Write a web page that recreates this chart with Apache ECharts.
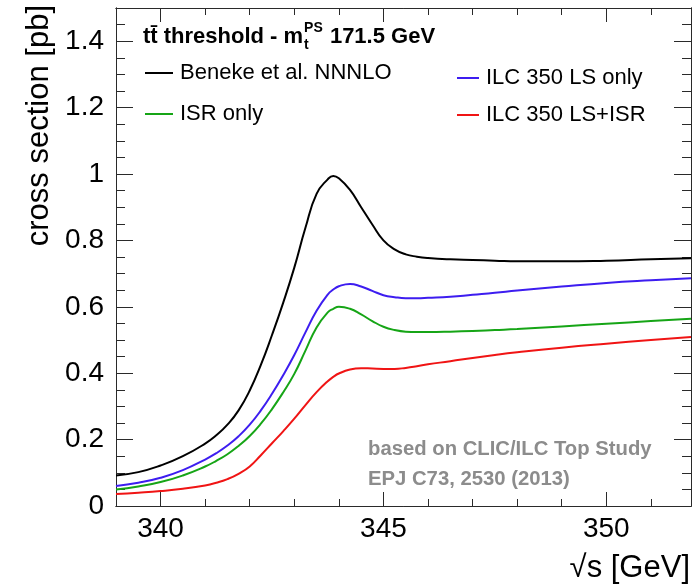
<!DOCTYPE html>
<html>
<head>
<meta charset="utf-8">
<script src="https://cdn.jsdelivr.net/npm/echarts@6/dist/echarts.min.js"></script>
<style>
  html, body { margin: 0; padding: 0; background: #ffffff; }
  #chart { width: 697px; height: 588px; }
</style>
</head>
<body>
<div id="chart"></div>
<script>
// Centre-of-mass energy grid (GeV)
const energy = [339.0, 339.5, 340.0, 340.5, 341.0, 341.25, 341.5, 341.75, 342.0, 342.25, 342.5, 342.75,
                343.0, 343.25, 343.5, 343.75, 343.875, 344.0, 344.25, 344.5, 344.75, 345.0, 345.25, 345.5,
                345.75, 346.0, 346.5, 347.0, 347.5, 348.0, 349.0, 350.0, 351.0, 351.9];

// Cross sections (pb)
const beneke = [0.092, 0.102, 0.122, 0.150, 0.188, 0.213, 0.245, 0.288, 0.348, 0.425, 0.515, 0.612,
                0.718, 0.838, 0.940, 0.984, 0.994, 0.987, 0.952, 0.900, 0.848, 0.800, 0.773, 0.758,
                0.751, 0.747, 0.743, 0.741, 0.739, 0.737, 0.737, 0.739, 0.743, 0.746];
const lsOnly = [0.060, 0.070, 0.085, 0.108, 0.140, 0.159, 0.182, 0.210, 0.245, 0.288, 0.338, 0.394,
                0.455, 0.523, 0.588, 0.637, 0.652, 0.662, 0.669, 0.661, 0.648, 0.635, 0.629, 0.626,
                0.626, 0.627, 0.630, 0.636, 0.642, 0.649, 0.661, 0.672, 0.680, 0.686];
const isrOnly = [0.050, 0.059, 0.072, 0.092, 0.119, 0.136, 0.156, 0.181, 0.211, 0.248, 0.292, 0.342,
                 0.398, 0.468, 0.538, 0.583, 0.594, 0.600, 0.594, 0.577, 0.557, 0.540, 0.530, 0.525,
                 0.524, 0.524, 0.525, 0.527, 0.530, 0.533, 0.541, 0.549, 0.557, 0.564];
const lsIsr = [0.036, 0.040, 0.045, 0.052, 0.062, 0.070, 0.081, 0.097, 0.119, 0.153, 0.189, 0.225,
               0.263, 0.304, 0.343, 0.376, 0.389, 0.399, 0.411, 0.415, 0.414, 0.413, 0.413, 0.416,
               0.421, 0.427, 0.436, 0.446, 0.455, 0.463, 0.477, 0.489, 0.500, 0.509];

// Tick positions
const xMajorTicks = [340, 345, 350];
const xMinorTicks = [341, 342, 343, 344, 346, 347, 348, 349, 351];
const yMajorTicks = [0, 0.2, 0.4, 0.6, 0.8, 1.0, 1.2, 1.4];
const yMinorTicks = [0.05, 0.1, 0.15, 0.25, 0.3, 0.35, 0.45, 0.5, 0.55, 0.65, 0.7, 0.75,
                     0.85, 0.9, 0.95, 1.05, 1.1, 1.15, 1.25, 1.3, 1.35, 1.45];

const seriesNames = ['Beneke et al. NNNLO', 'ISR only', 'ILC 350 LS only', 'ILC 350 LS+ISR'];
const seriesColors = ['#000000', '#16a516', '#3d1df0', '#f01414'];
const seriesValues = [beneke, isrOnly, lsOnly, lsIsr];

const FONT = '"Liberation Sans", Arial, Helvetica, sans-serif';
const X_MIN = 339, X_MAX = 351.9, Y_MIN = 0, Y_MAX = 1.5;
const frameColor = '#2a2a2a';

function xAxisDef(pos, ticks, len, withLabels) {
  return {
    type: 'value', position: pos, min: X_MIN, max: X_MAX,
    axisLine: { show: true, onZero: false, lineStyle: { color: frameColor, width: 1 } },
    axisTick: { show: true, inside: true, length: len, customValues: ticks,
                lineStyle: { color: frameColor, width: 1 } },
    axisLabel: withLabels
      ? { show: true, customValues: ticks, fontSize: 28, color: '#000', fontFamily: FONT, margin: 9 }
      : { show: false },
    splitLine: { show: false }
  };
}
function yAxisDef(pos, ticks, len, withLabels) {
  return {
    type: 'value', position: pos, min: Y_MIN, max: Y_MAX,
    axisLine: { show: true, onZero: false, lineStyle: { color: frameColor, width: 1 } },
    axisTick: { show: true, inside: true, length: len, customValues: ticks,
                lineStyle: { color: frameColor, width: 1 } },
    axisLabel: withLabels
      ? { show: true, customValues: ticks, fontSize: 28, color: '#000', fontFamily: FONT, margin: 12,
          formatter: v => String(Math.round(v * 10) / 10) }
      : { show: false },
    splitLine: { show: false }
  };
}

// Measure text so the sub/superscript pieces of the heading sit right after "m"
const measureCtx = document.createElement('canvas').getContext('2d');
function textWidth(str, font) { measureCtx.font = font; return measureCtx.measureText(str).width; }

const headMain = 'tt\u0304 threshold - m';
const headFont = 'bold 22px ' + FONT;
const smallFont = 'bold 14px ' + FONT;
const headX = 143, headY = 37;
const scriptX = headX + textWidth(headMain, headFont) + 1;
const tailX = scriptX + Math.max(textWidth('PS', smallFont), textWidth('t', smallFont)) + 1;
const noteFont = 'bold 20.3px ' + FONT;

const legends = [
  { name: seriesNames[0], left: 145, cy: 73, w: 28 },
  { name: seriesNames[1], left: 145, cy: 114, w: 28 },
  { name: seriesNames[2], left: 457, cy: 78, w: 22 },
  { name: seriesNames[3], left: 457, cy: 115, w: 22 }
].map(l => ({
  data: [l.name], left: l.left, top: l.cy - 11, padding: 0,
  icon: 'rect', itemWidth: l.w, itemHeight: 2,
  selectedMode: false,
  textStyle: { fontSize: 22, color: '#000', fontFamily: FONT, lineHeight: 22, padding: [0, 0, 0, 2] }
}));

const option = {
  animation: false,
  backgroundColor: '#ffffff',
  grid: { left: 116, right: 6, top: 8, bottom: 82, containLabel: false },
  xAxis: [
    xAxisDef('bottom', xMajorTicks, 14, true),
    xAxisDef('bottom', xMinorTicks, 7, false),
    xAxisDef('top', xMajorTicks, 14, false),
    xAxisDef('top', xMinorTicks, 7, false)
  ],
  yAxis: [
    yAxisDef('left', yMajorTicks, 17, true),
    yAxisDef('left', yMinorTicks, 9, false),
    yAxisDef('right', yMajorTicks, 17, false),
    yAxisDef('right', yMinorTicks, 9, false)
  ],
  legend: legends,
  series: seriesNames.map((name, k) => ({
    name: name, type: 'line', xAxisIndex: 0, yAxisIndex: 0,
    data: energy.map((e, i) => [e, seriesValues[k][i]]),
    symbol: 'none', smooth: 0.5,
    color: seriesColors[k],
    lineStyle: { color: seriesColors[k], width: 2 },
    z: 3
  })),
  graphic: [
    // heading
    { type: 'text', x: headX, y: headY, style: { text: headMain, font: headFont, fill: '#000', verticalAlign: 'middle' } },
    { type: 'text', x: scriptX, y: headY + 8, style: { text: 't', font: smallFont, fill: '#000', verticalAlign: 'middle' } },
    { type: 'text', x: scriptX, y: headY - 9, style: { text: 'PS', font: smallFont, fill: '#000', verticalAlign: 'middle' } },
    { type: 'text', x: tailX, y: headY, style: { text: ' 171.5 GeV', font: headFont, fill: '#000', verticalAlign: 'middle' } },
    // reference note
    { type: 'text', x: 368, y: 449, style: { text: 'based on CLIC/ILC Top Study', font: noteFont, fill: '#8c8c8c', verticalAlign: 'middle' } },
    { type: 'text', x: 368, y: 479, style: { text: 'EPJ C73, 2530 (2013)', font: noteFont, fill: '#8c8c8c', verticalAlign: 'middle' } },
    // axis titles
    { type: 'text', x: 690, y: 568, style: { text: '\u221As [GeV]', font: '31px ' + FONT, fill: '#000', align: 'right', verticalAlign: 'middle' } },
    { type: 'text', x: 39, y: 5, rotation: Math.PI / 2,
      style: { text: 'cross section [pb]', font: '31px ' + FONT, fill: '#000', align: 'right', verticalAlign: 'middle' } }
  ]
};

const chart = echarts.init(document.getElementById('chart'), null, { renderer: 'canvas' });
chart.setOption(option);
</script>
</body>
</html>
